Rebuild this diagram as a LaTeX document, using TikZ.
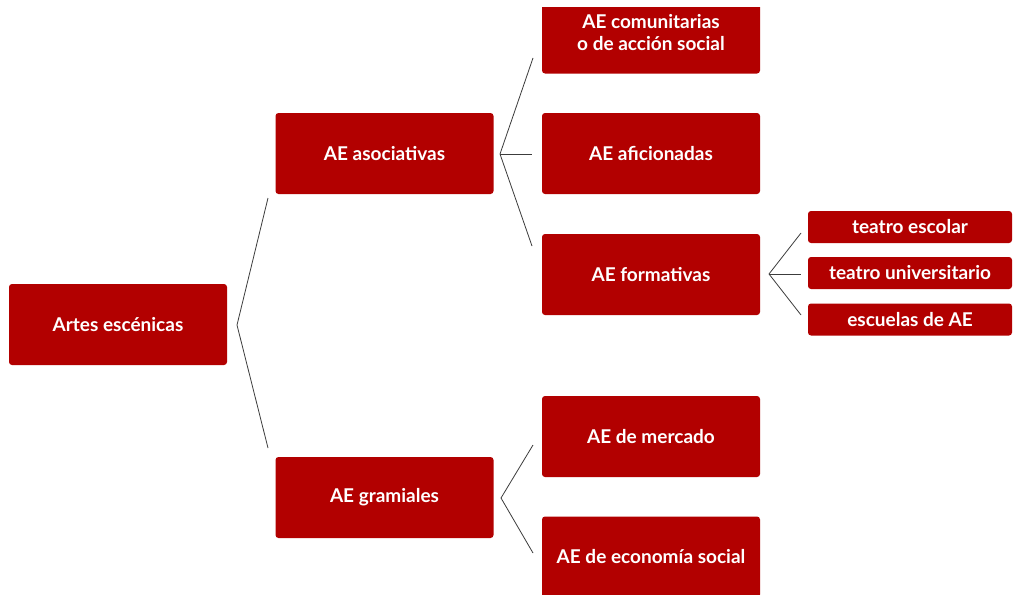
\documentclass[tikz,border=0pt]{standalone}
\usepackage{fontspec}
\setmainfont{Lato}
\definecolor{boxred}{RGB}{178,0,0}
\definecolor{linegray}{RGB}{60,60,60}
\begin{document}
\begin{tikzpicture}[x=1pt,y=-1pt,
  box/.style={fill=boxred,text=white,font=\bfseries\fontsize{19}{22}\selectfont,
    rounded corners=3pt,minimum width=218pt,minimum height=81pt,inner sep=0pt,align=center},
  smallbox/.style={box,minimum width=204pt,minimum height=32pt},
  link/.style={draw=linegray,line width=0.8pt}]
\useasboundingbox[fill=white] (0,0) rectangle (1014,594);
% main boxes
\node[box] (root) at (118,324.5) {Artes escénicas};
\node[box] (asoc) at (384.5,153.5) {AE asociativas};
\node[box] (gram) at (384.5,497.5) {AE gramiales};
\node[box] (comu) at (651,33) {AE comunitarias\\o de acción social};
\fill[white] (530,0) rectangle (770,7.5);
\node[box] (afic) at (651,153.5) {AE aficionadas};
\node[box] (form) at (651,274.5) {AE formativas};
\node[box] (merc) at (651,436.5) {AE de mercado};
\node[box] (econ) at (651,557) {AE de economía social};
\node[smallbox] (tesc) at (910,227) {teatro escolar};
\node[smallbox] (tuni) at (910,273) {teatro universitario};
\node[smallbox] (esc) at (910,319.5) {escuelas de AE};
% fan points
\coordinate (r0) at (237,325);
\coordinate (r1) at (268,198);
\coordinate (r2) at (268,448);
\coordinate (a0) at (500,154);
\coordinate (a1) at (533,58);
\coordinate (a2) at (532,154);
\coordinate (a3) at (532,246);
\coordinate (f0) at (769,274);
\coordinate (f1) at (801,233);
\coordinate (f2) at (801,274);
\coordinate (f3) at (801,315);
\coordinate (g0) at (501,498);
\coordinate (g1) at (533,445);
\coordinate (g2) at (533,553);
% connectors
\draw[link] (r1) -- (r0) -- (r2);
\draw[link] (a1) -- (a0) -- (a3);
\draw[link] (a0) -- (a2);
\draw[link] (f1) -- (f0) -- (f3);
\draw[link] (f0) -- (f2);
\draw[link] (g1) -- (g0) -- (g2);
\end{tikzpicture}
\end{document}
